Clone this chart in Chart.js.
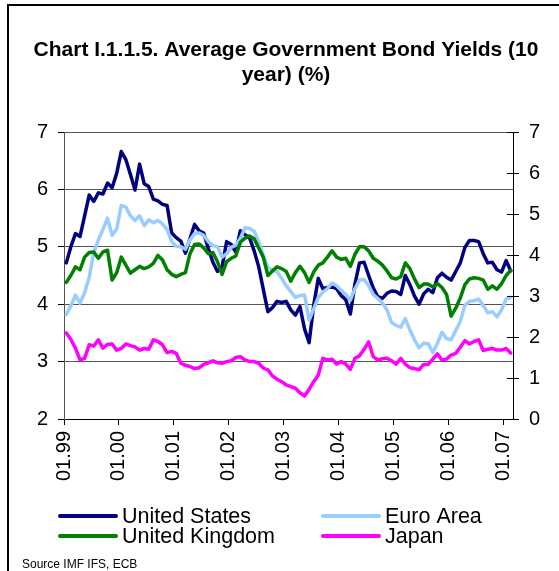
<!DOCTYPE html>
<html>
<head>
<meta charset="utf-8">
<script src="https://cdn.jsdelivr.net/npm/chart.js@4/dist/chart.umd.min.js"></script>
<style>
  html, body { margin: 0; padding: 0; background: #fff; }
  #wrap { width: 559px; height: 571px; position: relative; }
</style>
</head>
<body>
<div id="wrap"><canvas id="c" width="559" height="571"></canvas></div>
<script>
// Monthly observations, January 1999 - February 2007
const MONTHS = [
  '01.99','02.99','03.99','04.99','05.99','06.99','07.99','08.99','09.99','10.99','11.99','12.99',
  '01.00','02.00','03.00','04.00','05.00','06.00','07.00','08.00','09.00','10.00','11.00','12.00',
  '01.01','02.01','03.01','04.01','05.01','06.01','07.01','08.01','09.01','10.01','11.01','12.01',
  '01.02','02.02','03.02','04.02','05.02','06.02','07.02','08.02','09.02','10.02','11.02','12.02',
  '01.03','02.03','03.03','04.03','05.03','06.03','07.03','08.03','09.03','10.03','11.03','12.03',
  '01.04','02.04','03.04','04.04','05.04','06.04','07.04','08.04','09.04','10.04','11.04','12.04',
  '01.05','02.05','03.05','04.05','05.05','06.05','07.05','08.05','09.05','10.05','11.05','12.05',
  '01.06','02.06','03.06','04.06','05.06','06.06','07.06','08.06','09.06','10.06','11.06','12.06',
  '01.07','02.07'
];

const TICK_LABELS = ['01.99','01.00','01.01','01.02','01.03','01.04','01.05','01.06','01.07'];

// 10-year government bond yields, % (left axis)
const UNITED_STATES = [
  4.72, 5.00, 5.23, 5.18, 5.54, 5.90, 5.79, 5.94, 5.92, 6.11, 6.03, 6.28,
  6.66, 6.52, 6.26, 5.99, 6.44, 6.10, 6.05, 5.83, 5.80, 5.74, 5.72, 5.24,
  5.16, 5.10, 4.89, 5.14, 5.39, 5.28, 5.24, 4.97, 4.73, 4.57, 4.65, 5.09,
  5.04, 4.91, 5.28, 5.21, 5.16, 4.93, 4.65, 4.26, 3.87, 3.94, 4.05, 4.03,
  4.05, 3.90, 3.81, 3.96, 3.57, 3.33, 3.98, 4.45, 4.27, 4.29, 4.30, 4.27,
  4.15, 4.08, 3.83, 4.35, 4.72, 4.73, 4.50, 4.28, 4.13, 4.10, 4.19, 4.23,
  4.22, 4.17, 4.50, 4.34, 4.14, 4.00, 4.18, 4.26, 4.20, 4.46, 4.54, 4.47,
  4.42, 4.57, 4.72, 4.99, 5.11, 5.11, 5.09, 4.88, 4.72, 4.73, 4.60, 4.56,
  4.76, 4.58
];

const EURO_AREA = [
  3.82, 3.97, 4.16, 4.02, 4.20, 4.47, 4.90, 5.12, 5.30, 5.50, 5.20, 5.31,
  5.72, 5.69, 5.54, 5.46, 5.54, 5.37, 5.47, 5.42, 5.46, 5.40, 5.30, 5.09,
  5.01, 5.00, 4.96, 5.12, 5.23, 5.24, 5.20, 5.09, 5.02, 5.00, 4.82, 4.88,
  4.99, 5.03, 5.15, 5.33, 5.32, 5.27, 5.09, 4.85, 4.64, 4.59, 4.57, 4.45,
  4.32, 4.22, 4.12, 4.15, 4.16, 3.72, 3.92, 4.12, 4.21, 4.27, 4.37, 4.32,
  4.24, 4.17, 4.07, 4.27, 4.42, 4.43, 4.32, 4.17, 4.10, 4.02, 3.90, 3.68,
  3.63, 3.60, 3.75, 3.55, 3.38, 3.24, 3.32, 3.31, 3.16, 3.32, 3.51, 3.40,
  3.38, 3.54, 3.70, 3.98, 4.05, 4.06, 4.09, 3.98, 3.85, 3.87, 3.78, 3.90,
  4.09, 4.12
];

const UNITED_KINGDOM = [
  4.38, 4.50, 4.65, 4.60, 4.82, 4.90, 4.91, 4.80, 4.91, 4.94, 4.42, 4.55,
  4.82, 4.68, 4.54, 4.60, 4.66, 4.62, 4.65, 4.71, 4.85, 4.77, 4.60, 4.52,
  4.48, 4.52, 4.55, 4.88, 5.04, 5.05, 4.98, 4.88, 4.90, 4.74, 4.52, 4.74,
  4.80, 4.84, 5.08, 5.15, 5.19, 5.14, 4.98, 4.82, 4.50, 4.58, 4.65, 4.62,
  4.57, 4.40, 4.55, 4.66, 4.55, 4.38, 4.56, 4.68, 4.72, 4.82, 4.93, 4.82,
  4.78, 4.80, 4.66, 4.87, 5.00, 5.00, 4.93, 4.80, 4.75, 4.68, 4.58, 4.46,
  4.44, 4.48, 4.72, 4.62, 4.44, 4.29, 4.35, 4.35, 4.30, 4.36, 4.29, 4.17,
  3.79, 3.93, 4.11, 4.34, 4.44, 4.46, 4.45, 4.42, 4.26, 4.32, 4.26, 4.36,
  4.50, 4.59
];

// Japan, % (right axis)
const JAPAN = [
  2.10, 1.94, 1.73, 1.44, 1.48, 1.81, 1.78, 1.93, 1.73, 1.82, 1.83, 1.68,
  1.72, 1.83, 1.79, 1.76, 1.68, 1.72, 1.70, 1.93, 1.89, 1.81, 1.62, 1.65,
  1.60, 1.36, 1.31, 1.28, 1.23, 1.25, 1.33, 1.37, 1.42, 1.37, 1.36, 1.40,
  1.42, 1.50, 1.52, 1.44, 1.40, 1.40, 1.36, 1.24, 1.20, 1.05, 0.97, 0.91,
  0.83, 0.79, 0.75, 0.64, 0.56, 0.72, 0.91, 1.07, 1.48, 1.44, 1.46, 1.34,
  1.40, 1.34, 1.21, 1.48, 1.54, 1.70, 1.88, 1.52, 1.44, 1.47, 1.48, 1.42,
  1.34, 1.48, 1.34, 1.25, 1.23, 1.20, 1.33, 1.33, 1.46, 1.59, 1.44, 1.46,
  1.56, 1.60, 1.75, 1.91, 1.83, 1.89, 1.93, 1.67, 1.70, 1.72, 1.68, 1.68,
  1.72, 1.61
];

const TITLE_LINES = ['Chart I.1.1.5. Average Government Bond Yields (10', 'year) (%)'];
const SOURCE_TEXT = 'Source IMF IFS, ECB';

const FONT = '"Liberation Sans", Arial, Helvetica, sans-serif';

// each monthly value sits in the middle of its month slot
const toPoints = arr => arr.map((v, i) => ({ x: i, y: v }));

const series = [
  { label: 'United States',  data: UNITED_STATES,  color: '#000080', axis: 'y',  order: 4 },
  { label: 'Euro Area',      data: EURO_AREA,      color: '#99CCFF', axis: 'y',  order: 3 },
  { label: 'United Kingdom', data: UNITED_KINGDOM, color: '#008000', axis: 'y',  order: 2 },
  { label: 'Japan',          data: JAPAN,          color: '#FF00FF', axis: 'y2', order: 1 }
];

const decor = {
  id: 'decor',
  afterDraw(chart) {
    const ctx = chart.ctx;
    const area = chart.chartArea;
    ctx.save();

    // outer frame
    ctx.strokeStyle = '#000';
    ctx.lineWidth = 2;
    ctx.beginPath();
    ctx.moveTo(8, 571);
    ctx.lineTo(8, 5);
    ctx.lineTo(559, 5);
    ctx.stroke();

    // title
    ctx.fillStyle = '#000';
    ctx.textAlign = 'center';
    ctx.textBaseline = 'middle';
    ctx.font = 'bold 21px ' + FONT;
    TITLE_LINES.forEach((t, k) => ctx.fillText(t, 286, 50 + k * 25));

    // right-hand axis tick marks reach into the plot as well
    const y2 = chart.scales.y2;
    ctx.strokeStyle = '#000';
    ctx.lineWidth = 1;
    y2.ticks.forEach(t => {
      const y = Math.round(y2.getPixelForValue(t.value)) + 0.5;
      ctx.beginPath();
      ctx.moveTo(area.right - 6, y);
      ctx.lineTo(area.right, y);
      ctx.stroke();
    });

    // legend, two columns
    const slots = [[60, 516], [323, 516], [60, 536], [323, 536]];
    ctx.font = '21.5px ' + FONT;
    ctx.textAlign = 'left';
    chart.data.datasets.forEach((ds, k) => {
      const [lx, ly] = slots[k];
      ctx.strokeStyle = ds.borderColor;
      ctx.lineWidth = 4;
      ctx.lineCap = 'round';
      ctx.beginPath();
      ctx.moveTo(lx, ly);
      ctx.lineTo(lx + 56, ly);
      ctx.stroke();
      ctx.fillStyle = '#000';
      ctx.fillText(ds.label, lx + 62, ly + 1);
    });

    // source note
    ctx.font = '12px ' + FONT;
    ctx.fillText(SOURCE_TEXT, 22, 565);
    ctx.restore();
  }
};

new Chart(document.getElementById('c'), {
  type: 'line',
  data: {
    datasets: series.map(s => ({
      label: s.label,
      data: toPoints(s.data),
      yAxisID: s.axis,
      borderColor: s.color,
      backgroundColor: s.color,
      borderWidth: 3.5,
      pointRadius: 0,
      tension: 0,
      borderJoinStyle: 'round',
      borderCapStyle: 'round',
      order: s.order
    }))
  },
  options: {
    responsive: false,
    animation: false,
    devicePixelRatio: 1,
    layout: { padding: { top: 132, left: 0, right: 0, bottom: 0 } },
    plugins: { legend: { display: false }, title: { display: false }, tooltip: { enabled: false } },
    scales: {
      x: {
        type: 'linear',
        position: 'bottom',
        min: -0.5,
        max: 97.5,
        afterBuildTicks: axis => { axis.ticks = TICK_LABELS.map((l, k) => ({ value: -0.5 + 12 * k })); },
        afterFit: s => { s.height = 152; },
        grid: { drawOnChartArea: false, drawTicks: true, tickLength: 6, tickColor: '#000', color: '#000' },
        border: { color: '#000', width: 1 },
        ticks: {
          autoSkip: false,
          minRotation: 90,
          maxRotation: 90,
          padding: 6,
          color: '#000',
          font: { family: FONT, size: 20 },
          callback: (v, i) => TICK_LABELS[i]
        }
      },
      y: {
        position: 'left',
        min: 2,
        max: 7,
        afterFit: s => { s.width = 64; },
        grid: { color: '#555', tickColor: '#000', tickLength: 6, lineWidth: 1 },
        border: { color: '#555', width: 1 },
        ticks: { stepSize: 1, padding: 10, color: '#000', font: { family: FONT, size: 20 } }
      },
      y2: {
        position: 'right',
        min: 0,
        max: 7,
        afterFit: s => { s.width = 46; },
        grid: { drawOnChartArea: false, tickColor: '#000', tickLength: 6 },
        border: { color: '#000', width: 1 },
        ticks: { stepSize: 1, padding: 10, color: '#000', font: { family: FONT, size: 20 } }
      }
    }
  },
  plugins: [decor]
});
</script>
</body>
</html>
